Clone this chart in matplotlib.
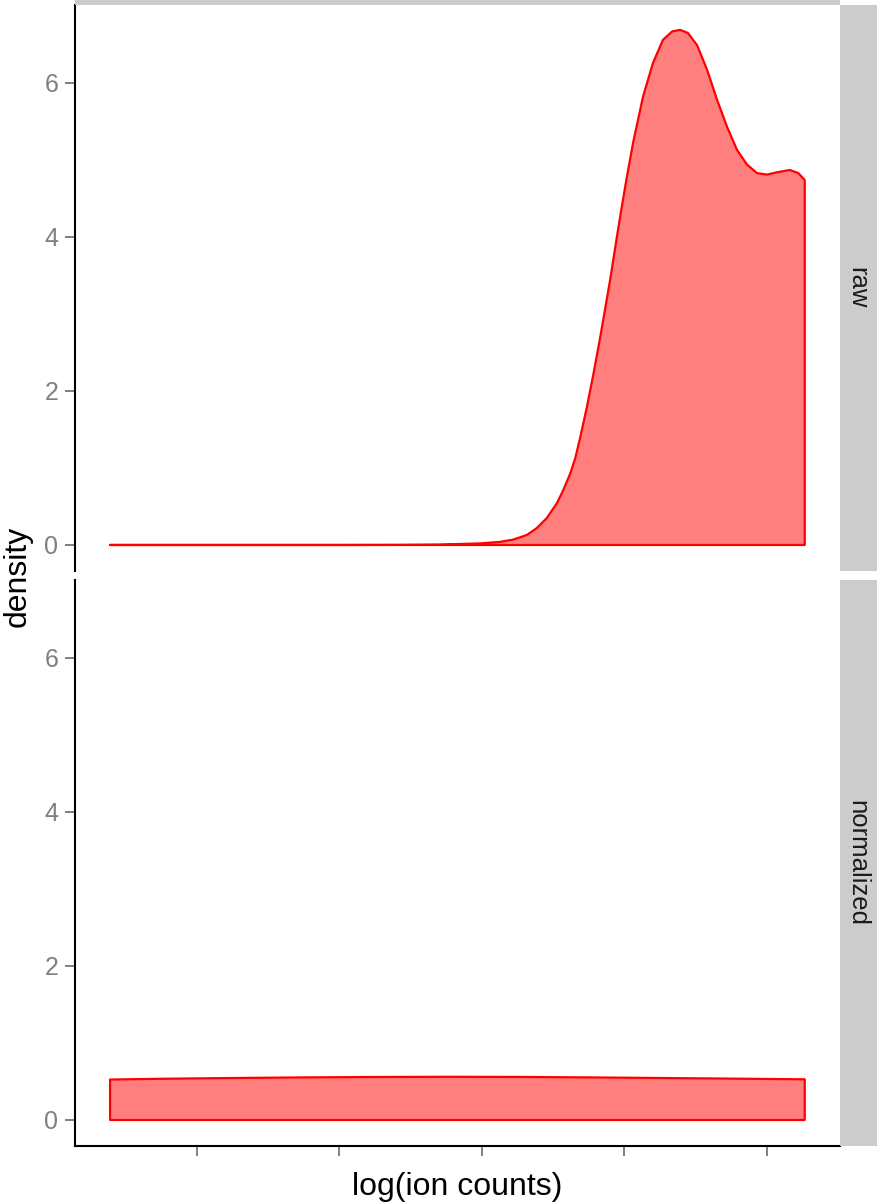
import matplotlib
matplotlib.use('Agg')
import matplotlib.pyplot as plt
from matplotlib.patches import Rectangle

plt.rcParams['font.family'] = ['Liberation Sans', 'DejaVu Sans']

# facet labels
panels = ['raw', 'normalized']

# density curve, raw panel (log ion counts vs density)
raw_x = [8.78, 10.0, 11.0, 12.0, 12.8, 13.4, 13.97, 14.25, 14.44, 14.63, 14.77,
         14.91, 15.05, 15.14, 15.24, 15.31, 15.38, 15.47, 15.56, 15.66, 15.80,
         15.89, 15.96, 16.03, 16.12, 16.26, 16.40, 16.54, 16.67, 16.78, 16.89,
         17.02, 17.16, 17.30, 17.44, 17.58, 17.72, 17.86, 18.00, 18.14, 18.32,
         18.44, 18.53]
raw_y = [0.0, 0.0, 0.0, 0.0, 0.001, 0.005, 0.02, 0.04, 0.07, 0.13, 0.22,
         0.35, 0.54, 0.71, 0.93, 1.13, 1.40, 1.78, 2.20, 2.70, 3.45,
         3.98, 4.38, 4.76, 5.22, 5.82, 6.26, 6.56, 6.67, 6.69, 6.65,
         6.49, 6.17, 5.78, 5.43, 5.13, 4.94, 4.83, 4.81, 4.84, 4.87,
         4.83, 4.74]

# density curve, normalized panel
norm_x = [8.78, 9.5, 10.5, 11.5, 12.5, 13.55, 14.5, 15.5, 16.5, 17.5, 18.53]
norm_y = [0.525, 0.535, 0.545, 0.553, 0.558, 0.561, 0.559, 0.553, 0.545, 0.537, 0.528]

xticks = [10, 12, 14, 16, 18]
yticks = [0, 2, 4, 6]

W, H = 877, 1204
fig = plt.figure(figsize=(W / 100, H / 100), dpi=100)

left = 75 / W
width = (840 - 75) / W
tops = [5, 580]
bots = [571, 1146]
series = [(raw_x, raw_y), (norm_x, norm_y)]

grey = '#7F7F7F'
strip = '#CCCCCC'

for i, name in enumerate(panels):
    ax = fig.add_axes([left, (H - bots[i]) / H, width, (bots[i] - tops[i]) / H])
    xs, ys = series[i]
    px = list(xs) + [xs[-1], xs[0]]
    py = list(ys) + [0, 0]
    ax.fill(px, py, facecolor=(1, 0, 0, 0.5), edgecolor='red', linewidth=1.6,
            joinstyle='round')
    ax.set_xlim(8.288, 19.025)
    ax.set_ylim(-0.338, 7.013)
    ax.set_yticks(yticks)
    ax.set_yticklabels([str(t) for t in yticks])
    ax.set_xticks(xticks)
    ax.tick_params(axis='y', colors=grey, labelsize=18, length=7, width=1.4, pad=5)
    for s in ['top', 'right']:
        ax.spines[s].set_visible(False)
    ax.spines['left'].set_linewidth(1.5)
    ax.spines['left'].set_color('black')
    if i == 0:
        ax.spines['bottom'].set_visible(False)
        ax.tick_params(axis='x', length=0, labelbottom=False)
    else:
        ax.spines['bottom'].set_linewidth(1.5)
        ax.spines['bottom'].set_color('black')
        ax.tick_params(axis='x', colors=grey, length=7, width=1.4, labelbottom=False)

    # right facet strip
    fig.patches.append(Rectangle((840 / W, (H - bots[i]) / H), 37 / W,
                                 (bots[i] - tops[i]) / H, transform=fig.transFigure,
                                 facecolor=strip, edgecolor='none'))
    fig.text(857 / W, (H - (tops[i] + bots[i]) / 2) / H, name, rotation=-90,
             ha='center', va='center', fontsize=18.5, color='#1A1A1A')

# top strip, cut off by the figure edge
fig.patches.append(Rectangle((75 / W, (H - 5) / H), 765 / W, 5 / H,
                             transform=fig.transFigure, facecolor=strip, edgecolor='none'))

fig.text(18 / W, (H - 576) / H, 'density', rotation=90, ha='center', va='center',
         fontsize=23, color='black')
fig.text(457 / W, (H - 1187) / H, 'log(ion counts)', ha='center', va='center',
         fontsize=23, color='black')

fig.savefig('out.png', dpi=100)
